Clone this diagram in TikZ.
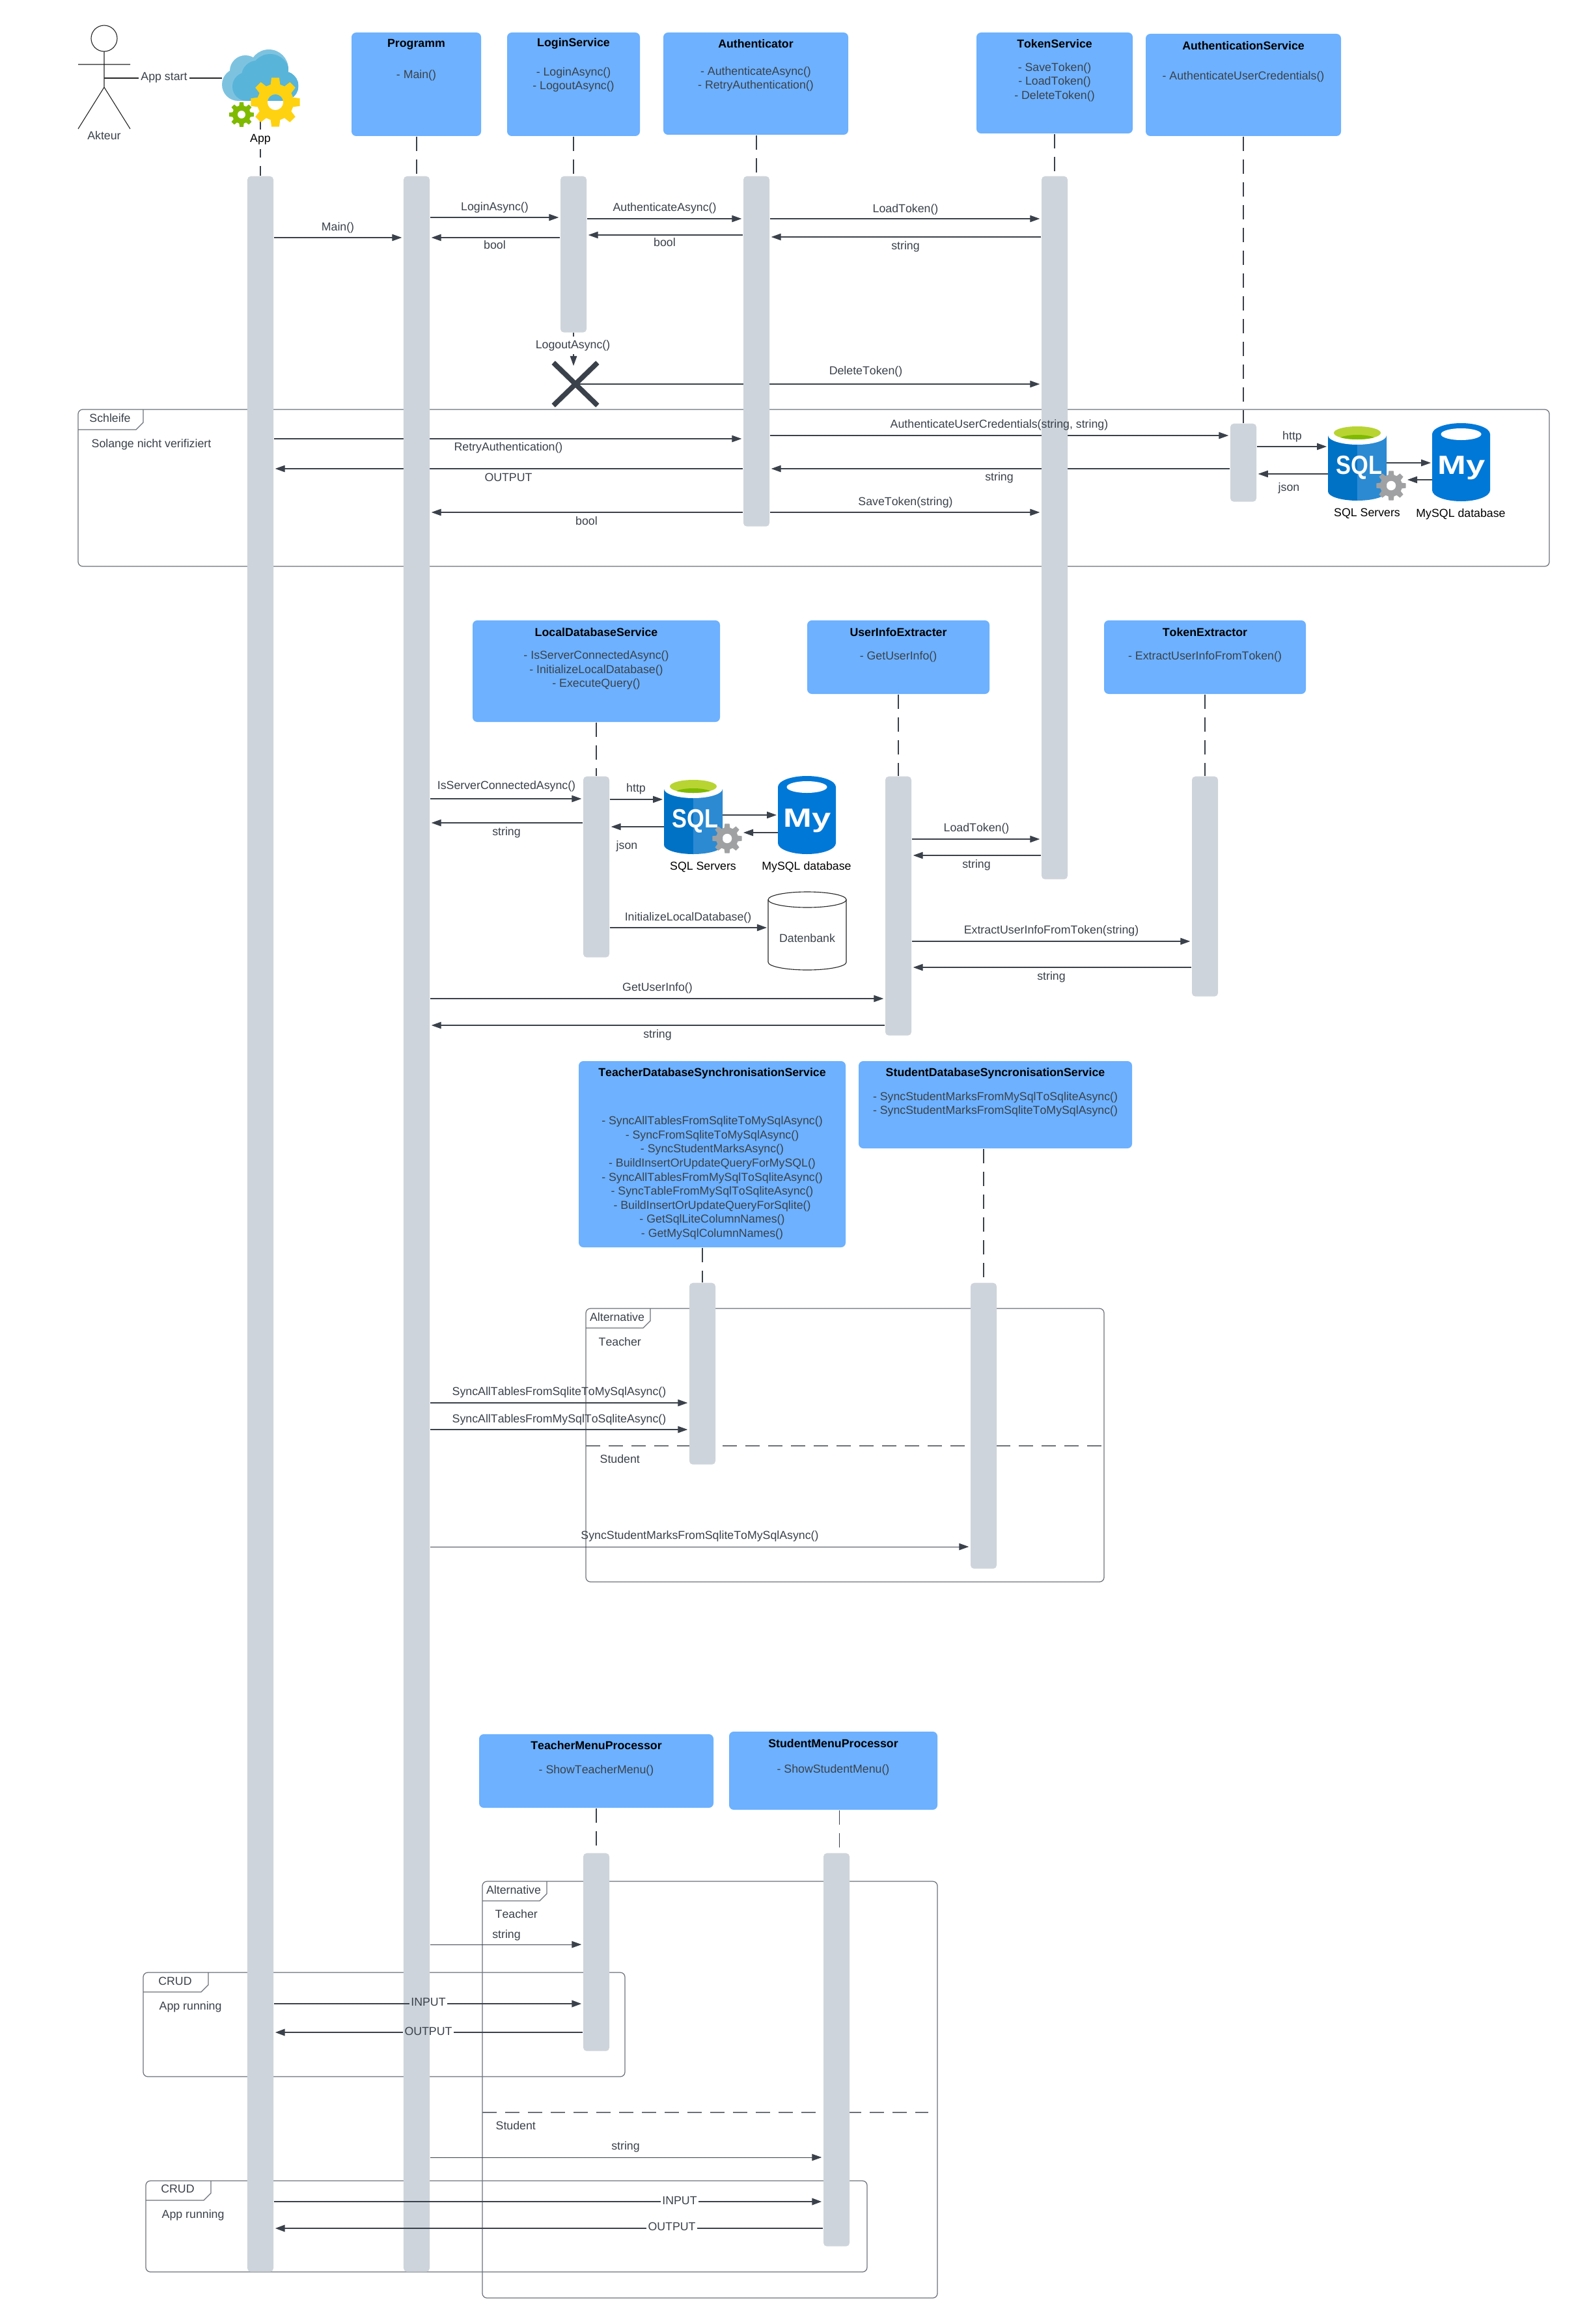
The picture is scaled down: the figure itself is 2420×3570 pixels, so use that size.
\documentclass[tikz,border=0pt]{standalone}
\usepackage{fontspec}
\setmainfont[Kerning=Off]{Liberation Sans}
\usetikzlibrary{arrows.meta, positioning, shapes.misc, backgrounds}
\definecolor{BoxBlue}{RGB}{109, 177, 255}
\definecolor{BarGray}{RGB}{206, 212, 219}
\definecolor{LineDark}{RGB}{58, 65, 74}
\definecolor{FrameGray}{RGB}{108, 113, 121}
\definecolor{CloudLight}{RGB}{125, 195, 224}
\definecolor{CloudDark}{RGB}{89, 180, 217}
\definecolor{GearYellow}{RGB}{255, 210, 17}
\definecolor{GearGreen}{RGB}{127, 186, 0}
\definecolor{GearGray}{RGB}{160, 161, 162}
\definecolor{SqlBlue}{RGB}{0, 114, 198}
\definecolor{SqlLight}{RGB}{44, 138, 210}
\definecolor{SqlLime}{RGB}{184, 212, 50}
\definecolor{MyBlue}{RGB}{0, 120, 215}
\tikzset{
  txt/.style={font=\fontsize{5.05}{6.14}\selectfont, text=LineDark, inner sep=0pt, align=center, yshift=-0.4pt},
  msgtxt/.style={txt, text height=3.7pt, text depth=1pt},
  classtitle/.style={txt, text=black, font=\fontsize{5.05}{6.14}\selectfont\bfseries},
  classbox/.style={fill=BoxBlue, rounded corners=2pt, inner sep=0pt},
  lifebar/.style={fill=BarGray, rounded corners=1.5pt, inner sep=0pt, minimum width=0.4cm, anchor=north},
  lifeline/.style={LineDark, line width=0.32pt, dash pattern=on 0.22cm off 0.13cm},
  thinline/.style={black!85, line width=0.32pt},
  msg/.style={LineDark, line width=0.3pt, -{Triangle[length=0.15cm, width=0.105cm]}, shorten >=0.02cm},
  thickmsg/.style={msg, line width=0.6pt},
  thickline/.style={LineDark, line width=0.6pt},
  framebox/.style={FrameGray, line width=0.35pt},
  iconslot/.style={inner sep=0pt, outer sep=0pt},
  pics/gearicon/.style 2 args={code={
    \fill[fill=#1, even odd rule] (0,0) circle ({0.32*#2}) (-15:{0.74*#2})
      \foreach \a in {0,45,...,315} { -- ({\a-15}:{0.74*#2}) -- ({\a-9}:#2) -- ({\a+9}:#2) -- ({\a+15}:{0.74*#2}) } -- cycle;
  }},
  pics/sqlicon/.style={code={
    \fill[SqlBlue] (0,15) -- (0,101) arc[start angle=180, end angle=90, x radius=45, y radius=14] -- (45,15) -- cycle;
    \fill[SqlLight] (45,15) -- (45,115) arc[start angle=90, end angle=0, x radius=45, y radius=14] -- (90,15) -- cycle;
    \fill[white] (45,14.5) ellipse[x radius=45, y radius=14.5];
    \fill[SqlLime] (45,11) ellipse[x radius=36, y radius=10];
    \begin{scope}
      \clip (45,11) ellipse[x radius=36, y radius=10];
      \fill[GearGreen] (45,22) ellipse[x radius=30, y radius=8];
    \end{scope}
    \node[iconslot, text=white, font=\fontsize{11.5}{12}\selectfont\bfseries] (-mark) at (48,64) {\scalebox{0.85}[1]{SQL}};
  }},
  pics/myicon/.style={code={
    \fill[MyBlue] (0,17) -- (0,103) arc[start angle=180, end angle=0, x radius=44.5, y radius=17] -- (89,17) arc[start angle=0, end angle=-180, x radius=44.5, y radius=17] -- cycle;
    \fill[white] (44.5,17) ellipse[x radius=31, y radius=9];
    \node[iconslot, text=white, font=\fontsize{11.5}{12}\selectfont\bfseries] (-mark) at (45,69) {\scalebox{1.3}[1]{My}};
  }}
}

\begin{document}
\begin{tikzpicture}[x=0.01cm, y=-0.01cm]
\useasboundingbox (0,0) rectangle (2420,3570);

% lifelines bars
\foreach \name/\x/\ya/\yb in {barApp/400/270/3489, barProg/640/270/3489, barLogin/881/270/510, barAuth/1162/270/808, barToken/1620/270/1350, barAuthSvc/1910/650/770, barLocal/916/1192/1470, barUser/1380/1192/1590, barTokEx/1851/1192/1530, barTeachSync/1079/1970/2249, barStudSync/1511/1970/2409, barTeachMenu/916/2846/3150, barStudMenu/1285/2846/3450} {
  \node[lifebar, minimum height={(\yb-\ya)*0.01cm}] (\name) at (\x,\ya) {};
}

% class boxes
\foreach \name/\xa/\ya/\xb/\yb/\title/\ty/\body/\by in {
  boxProg/540/50/739/209/Programm/67/{- Main()}/115,
  boxLogin/779/50/983/209/LoginService/66/{- LoginAsync()\\- LogoutAsync()}/121,
  boxAuth/1019/50/1303/207/Authenticator/66/{- AuthenticateAsync()\\- RetryAuthentication()}/120,
  boxToken/1500/50/1740/205/TokenService/66/{- SaveToken()\\- LoadToken()\\- DeleteToken()}/125,
  boxAuthSvc/1760/52/2060/209/AuthenticationService/69/{- AuthenticateUserCredentials()}/117,
  boxLocal/726/953/1106/1109/LocalDatabaseService/970/{- IsServerConnectedAsync()\\- InitializeLocalDatabase()\\- ExecuteQuery()}/1028,
  boxUser/1240/953/1520/1066/UserInfoExtracter/970/{- GetUserInfo()}/1007,
  boxTokEx/1696/953/2006/1066/TokenExtractor/970/{- ExtractUserInfoFromToken()}/1007,
  boxTeachSync/889/1630/1299/1916/TeacherDatabaseSynchronisationService/1647/{- SyncAllTablesFromSqliteToMySqlAsync()\\- SyncFromSqliteToMySqlAsync()\\- SyncStudentMarksAsync()\\- BuildInsertOrUpdateQueryForMySQL()\\- SyncAllTablesFromMySqlToSqliteAsync()\\- SyncTableFromMySqlToSqliteAsync()\\- BuildInsertOrUpdateQueryForSqlite()\\- GetSqlLiteColumnNames()\\- GetMySqlColumnNames()}/1808,
  boxStudSync/1319/1630/1739/1764/StudentDatabaseSyncronisationService/1647/{- SyncStudentMarksFromMySqlToSqliteAsync()\\- SyncStudentMarksFromSqliteToMySqlAsync()}/1695,
  boxTeachMenu/736/2664/1096/2777/TeacherMenuProcessor/2680/{- ShowTeacherMenu()}/2718,
  boxStudMenu/1120/2660/1440/2780/StudentMenuProcessor/2677/{- ShowStudentMenu()}/2717} {
  \node[classbox, minimum width={(\xb-\xa)*0.01cm}, minimum height={(\yb-\ya)*0.01cm}] (\name) at ({(\xa+\xb)/2},{(\ya+\yb)/2}) {};
  \node[classtitle] (\name Title) at ({(\xa+\xb)/2},\ty) {\title};
  \node[txt] (\name Text) at ({(\xa+\xb)/2},\by) {\body};
}

% actor
\draw[thinline] (160,59) circle (20);
\draw[thinline] (160,79) -- (160,134) (120,99) -- (200,99) (120,198) -- (160,134) -- (200,198);
\coordinate (actorBody) at (160,120);
\node[txt] (actorName) at (160,207) {Akteur};

% app icon
\node[iconslot, minimum width=1.2cm, minimum height=1.09cm] (iconApp) at (401,130.5) {};
\begin{scope}[on background layer]
  \draw[lifeline] (barApp.north |- iconApp.south) -- (barApp.north);
\end{scope}
\fill[CloudLight] (366,130) circle (25) (377,109) circle (24) (413,106) circle (30) (436,132) circle (22.5) (366,155) rectangle (436,120);
\begin{scope}
  \clip (366,130) circle (25) (377,109) circle (24) (413,106) circle (30) (436,132) circle (22.5) (366,155) rectangle (436,120);
  \fill[CloudDark] (379,133) circle (22) (395,117) circle (24) (415,113) circle (30) (436,132) circle (22.5) (379,155) rectangle (436,120);
\end{scope}
\pic at (423,157) {gearicon={GearYellow}{38}};
\pic at (371,176) {gearicon={GearGreen}{19}};
\node[txt, text=black, fill=white, inner ysep=2pt] (appName) at (400,213) {App};
\draw[thinline] (actorBody) -- (iconApp.west |- actorBody);
\node[txt, fill=white, inner xsep=1pt] (appStart) at (252,118) {App start};

% databases
\foreach \sqlN/\myN/\gearN/\sx/\sy/\mx/\mys/\gx/\gy in {sqlAuth/myAuth/gearAuth/2040/654/2200/650/2137/746, sqlLocal/myLocal/gearLocal/1020/1197/1195/1192/1117/1288} {
  \node[iconslot, anchor=north west, minimum width=0.9cm, minimum height=1.15cm] (\sqlN) at (\sx,\sy) {};
  \node[iconslot, anchor=north west, minimum width=0.89cm, minimum height=1.2cm] (\myN) at (\mx,\mys) {};
  \node[iconslot, minimum width=0.46cm, minimum height=0.46cm] (\gearN) at (\gx,\gy) {};
  \pic (\sqlN Icon) at (\sx,\sy) {sqlicon};
  \pic (\myN Icon) at (\mx,\mys) {myicon};
  \pic at (\gearN) {gearicon={GearGray}{23}};
  \node[txt, text=black] (\sqlN Name) at ({\sx+60},{\sy+134}) {SQL Servers};
  \node[txt, text=black] (\myN Name) at ({\mx+44},{\mys+138}) {MySQL database};
}

% local database
\node[iconslot, minimum width=1.2cm, minimum height=1.2cm] (dbLocal) at (1240,1430) {};
\draw[thinline] (1180,1382) -- (1180,1478) arc[start angle=180, end angle=0, x radius=60, y radius=12] -- (1300,1382);
\draw[thinline] (1240,1382) ellipse[x radius=60, y radius=12];
\node[txt] (dbName) at (1240,1440) {Datenbank};

% frames
\begin{scope}[on background layer]
\foreach \xa/\ya/\xb/\yb/\tx/\ty in {120/629/2380/870/220/660, 900/2010/1696/2430/999/2040, 741/2890/1440/3530/840/2920, 220/3030/960/3190/320/3060, 224/3350/1332/3490/324/3380} {
  \draw[framebox, rounded corners=2pt] (\xa,\ya) rectangle (\xb,\yb);
  \draw[framebox] (\xa,\ty) -- ({\tx-11},\ty) -- (\tx,{\ty-11}) -- (\tx,\ya);
}
\draw[framebox, dash pattern=on 0.22cm off 0.13cm] (900,2221) -- (1693,2221);
\draw[framebox, dash pattern=on 0.22cm off 0.13cm] (741,3245) -- (1426,3245);
\end{scope}
\foreach \x/\y/\l [count=\i] in {169/642/Schleife, 948/2023/Alternative, 789/2903/Alternative, 269/3043/CRUD, 273/3362/CRUD} {
  \node[msgtxt] (frameName\i) at (\x,\y) {\l};
}
\foreach \x/\y/\l [count=\i] in {140/681/{Solange nicht verifiziert}, 919/2061/Teacher, 921/2241/Student, 760/2940/Teacher, 761/3265/Student, 244/3081/{App running}, 248/3401/{App running}} {
  \node[msgtxt, anchor=west] (guard\i) at (\x,\y) {\l};
}

% lifelines
\begin{scope}[on background layer]
\foreach \cls/\lane in {boxProg/barProg, boxLogin/barLogin, boxAuth/barAuth, boxToken/barToken, boxAuthSvc/barAuthSvc, boxLocal/barLocal, boxUser/barUser, boxTokEx/barTokEx, boxTeachSync/barTeachSync, boxStudSync/barStudSync, boxTeachMenu/barTeachMenu} {
  \draw[lifeline] (\lane.north |- \cls.south) -- (\lane.north);
}
\draw[lifeline] ([xshift=0.045cm]barStudMenu.north |- boxStudMenu.south) -- ([xshift=0.045cm]barStudMenu.north);
\end{scope}

% logout
\node[cross out, draw=LineDark, line width=2.2pt, inner sep=0pt, minimum width=0.6cm, minimum height=0.58cm] (crossLogout) at (884,590) {};
\coordinate (logoutEnd) at (881,564);
\draw[msg] (barLogin.south) -- (logoutEnd);
\node[msgtxt, fill=white, inner ysep=1.5pt] (logoutName) at (880,529) {LogoutAsync()};

% messages
\foreach \from/\to/\y/\l/\lx/\ly [count=\i] in {
  barApp.east/barProg.west/365/{Main()}/519/348,
  barProg.east/barLogin.west/334/{LoginAsync()}/760/317,
  barLogin.west/barProg.east/365/bool/760/376,
  barLogin.east/barAuth.west/336/{AuthenticateAsync()}/1021/318,
  barAuth.west/barLogin.east/361/bool/1021/372,
  barAuth.east/barToken.west/336/{LoadToken()}/1391/320,
  barToken.west/barAuth.east/364/string/1391/377,
  crossLogout.center/barToken.west/590/{DeleteToken()}/1330/569,
  barAuth.east/barAuthSvc.west/669/{AuthenticateUserCredentials(string, string)}/1535/651,
  barApp.east/barAuth.west/674/{RetryAuthentication()}/781/686,
  barAuthSvc.west/barAuth.east/720/string/1535/732,
  barAuth.west/barApp.east/720/OUTPUT/781/733,
  barAuth.east/barToken.west/787/{SaveToken(string)}/1391/770,
  barAuth.west/barProg.east/787/bool/901/800,
  barAuthSvc.east/sqlAuth.west/686/http/1985/669,
  sqlAuth.west/barAuthSvc.east/728/json/1980/748,
  barProg.east/barLocal.west/1227/{IsServerConnectedAsync()}/778/1206,
  barLocal.west/barProg.east/1264/string/778/1277,
  barLocal.east/sqlLocal.west/1228/http/977/1210,
  sqlLocal.west/barLocal.east/1270/json/963/1298,
  barLocal.east/dbLocal.west/1425/{InitializeLocalDatabase()}/1057/1408,
  barUser.east/barToken.west/1289/{LoadToken()}/1500/1271,
  barToken.west/barUser.east/1314/string/1500/1327,
  barUser.east/barTokEx.west/1446/{ExtractUserInfoFromToken(string)}/1615/1428,
  barTokEx.west/barUser.east/1486/string/1615/1499,
  barProg.east/barUser.west/1534/{GetUserInfo()}/1010/1516,
  barUser.west/barProg.east/1575/string/1010/1588,
  barProg.east/barTeachSync.west/2155/{SyncAllTablesFromSqliteToMySqlAsync()}/859/2137,
  barProg.east/barTeachSync.west/2196/{SyncAllTablesFromMySqlToSqliteAsync()}/859/2179,
  barProg.east/barStudSync.west/2376/{SyncStudentMarksFromSqliteToMySqlAsync()}/1075/2358,
  barProg.east/barTeachMenu.west/2987/string/778/2971,
  barProg.east/barStudMenu.west/3314/string/961/3296} {
  \begin{scope}[on background layer]
    \draw[msg] (\from |- 0,\y) -- (\to |- 0,\y);
  \end{scope}
  \node[msgtxt] (msgName\i) at (\lx,\ly) {\l};
}
\foreach \from/\to/\y in {sqlAuth.east/myAuth.west/711, myAuth.west/gearAuth.east/737, sqlLocal.east/myLocal.west/1252, myLocal.west/gearLocal.east/1279} {
  \draw[msg] (\from |- 0,\y) -- (\to |- 0,\y);
}

% app running messages
\foreach \from/\to/\y/\l/\lx/\ly [count=\i] in {
  barApp.east/barTeachMenu.west/3078/INPUT/658/3075,
  barTeachMenu.west/barApp.east/3122/OUTPUT/658/3120,
  barApp.east/barStudMenu.west/3382/INPUT/1044/3380,
  barStudMenu.west/barApp.east/3423/OUTPUT/1032/3420} {
  \node[msgtxt, inner xsep=0.5pt] (ioName\i) at (\lx,\ly) {\l};
  \ifodd\i
    \draw[thickline] (\from |- 0,\y) -- (ioName\i.west |- 0,\y);
    \draw[thickmsg] (ioName\i.east |- 0,\y) -- (\to |- 0,\y);
  \else
    \draw[thickline] (\from |- 0,\y) -- (ioName\i.east |- 0,\y);
    \draw[thickmsg] (ioName\i.west |- 0,\y) -- (\to |- 0,\y);
  \fi
}
\end{tikzpicture}
\end{document}
